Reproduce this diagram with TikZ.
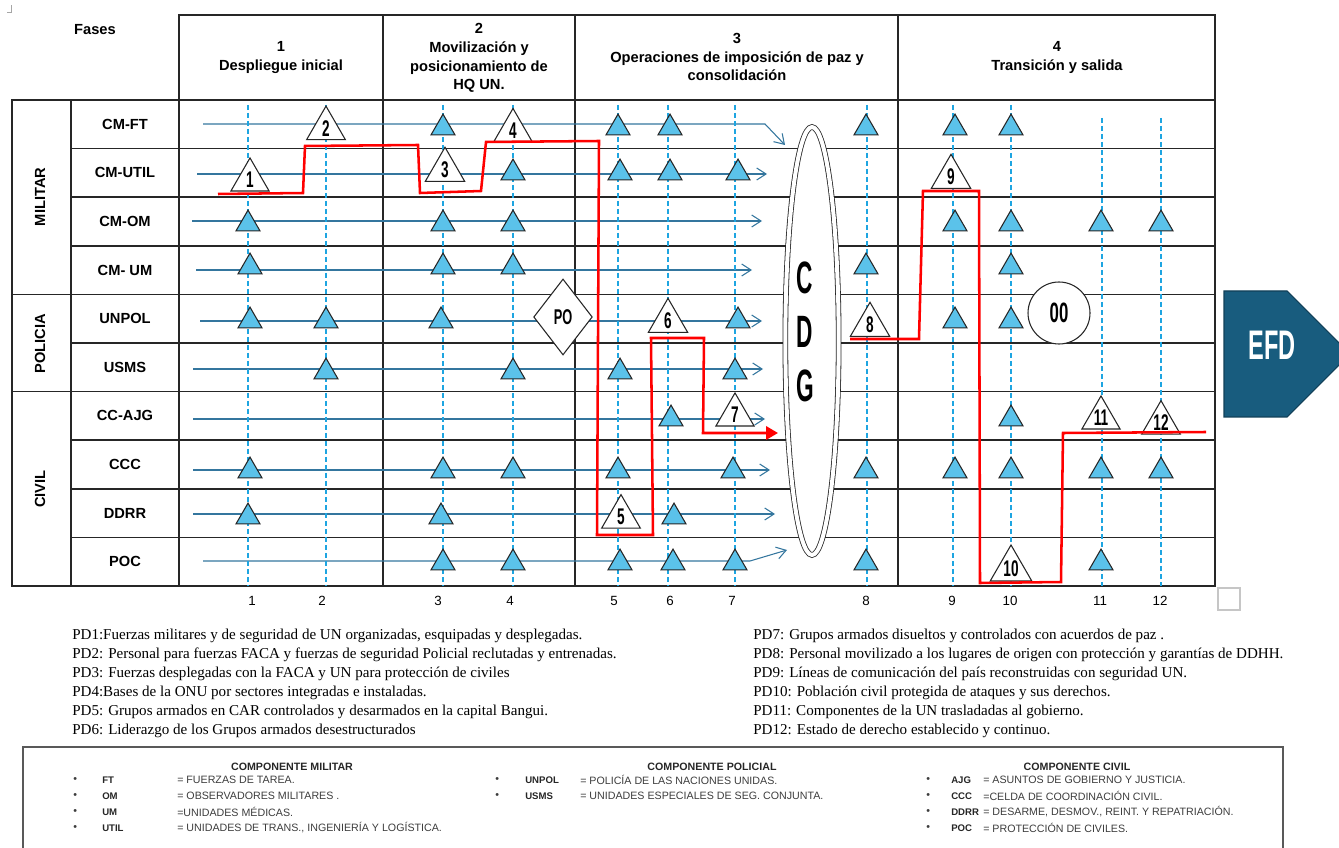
\documentclass[tikz,border=0pt]{standalone}
\usepackage{fontspec}
\setmainfont{Liberation Sans}
\newfontfamily\pdfont{Liberation Serif}
\newfontfamily\legfont{Liberation Sans}
\usetikzlibrary{shapes.geometric,arrows.meta}

\definecolor{azulflujo}{RGB}{52,118,158}
\definecolor{azulhito}{RGB}{30,165,225}
\definecolor{azultri}{RGB}{91,194,234}
\definecolor{azulefd}{RGB}{24,92,126}
\definecolor{grisley}{RGB}{60,60,60}

\newcommand{\angosto}[2][0.6]{\scalebox{#1}[1]{\bfseries #2}}

\tikzset{
  celda/.style={draw=black!85,line width=1.1pt},
  titulo/.style={font=\bfseries\fontsize{11}{14}\selectfont,inner sep=1pt},
  flujo/.style={azulflujo,line width=0.8pt,-{Straight Barb[length=7pt,width=9pt]}},
  hito/.style={azulhito,line width=0.9pt,dash pattern=on 3.5pt off 2.5pt},
  pd/.style={regular polygon,regular polygon sides=3,draw=black!85,fill=azultri,
    line width=0.8pt,minimum size=20.8pt,inner sep=0pt,outer sep=0pt},
  pdnum/.style={regular polygon,regular polygon sides=3,draw=black!85,fill=white,
    line width=0.8pt,minimum size=30pt,inner sep=0pt,font=\fontsize{17}{17}\selectfont},
  ruta/.style={red,line width=1.9pt},
  nota/.style={anchor=west,inner sep=0pt,font=\pdfont\fontsize{11.3}{13}\selectfont},
  ley/.style={anchor=west,inner sep=0pt,text=grisley,font=\legfont\fontsize{8}{9}\selectfont},
  leytit/.style={ley,text=black!85,font=\legfont\bfseries\fontsize{8}{9}\selectfont},
  leyabr/.style={ley,text=black!85,font=\legfont\bfseries\fontsize{7.2}{9}\selectfont},
}

\begin{document}
\begin{tikzpicture}[x=0.75pt,y=-0.75pt]
\clip (0,0) rectangle (1339,848);
\draw[gray!70,line width=0.6pt] (7,12) -- (11,12) -- (11,5);

%% cabecera
\node[titulo] (fases) at (95,30) {Fases};
\draw[celda] (179,15) rectangle (1215,100);
\foreach \x in {383,575,898} \draw[celda] (\x,15) -- (\x,586);
\node[titulo,align=center] (fase1) at (281,57.5) {1\\Despliegue inicial};
\node[titulo,align=center] (fase2) at (479,58) {2\\Movilización y\\posicionamiento de\\HQ UN.};
\node[titulo,align=center] (fase3) at (737,57) {3\\Operaciones de imposición de paz y\\consolidación};
\node[titulo,align=center] (fase4) at (1057,57.5) {4\\Transición y salida};

%% cuerpo de la tabla
\draw[celda] (12,100) rectangle (1215,586);
\draw[celda] (71,100) -- (71,586);
\draw[celda] (179,100) -- (179,586);
\foreach \i in {1,2,3,5,7,8,9} \draw[celda] (71,100+48.6*\i) -- (1215,100+48.6*\i);
\foreach \i in {4,6} \draw[celda] (12,100+48.6*\i) -- (1215,100+48.6*\i);
\foreach \t [count=\i from 0] in {CM-FT,CM-UTIL,CM-OM,CM- UM,UNPOL,USMS,CC-AJG,CCC,DDRR,POC}
  \node[titulo] (fila\i) at (125,124.3+48.6*\i) {\t};
\node[titulo,rotate=90] (militar) at (40,197) {MILITAR};
\node[titulo,rotate=90] (policia) at (40,343.5) {POLICIA};
\node[titulo,rotate=90] (civil) at (40,489) {CIVIL};

%% lineas de esfuerzo
\draw[flujo] (203,124) -- (765,124) -- (785,145);
\foreach \xa/\xb/\y in {197/767/174,192/762/221,196/752/270,200/762/321,193/763/369,193/765/419,193/770/470,193/775/514}
  \draw[flujo] (\xa,\y) -- (\xb,\y);
\draw[flujo] (203,561) -- (750,561) -- (787,550);

%% puntos decisivos (columnas)
\foreach \x in {248,326,443,513,618,668,735,867,953,1011} \draw[hito] (\x,105) -- (\x,586);
\foreach \x in {1102,1161} \draw[hito] (\x,118) -- (\x,586);

%% triangulos azules
\foreach \y/\lista in {128/{443,618,670,866,955,1011},173/{513,620,670,738},
    224/{248,443,513,955,1011,1101,1161},267/{250,443,513,866,1011},
    321/{250,326,441,738,955,1011},372/{326,513,620,735},419/{671,1011},
    471/{250,443,513,618,733,866,955,1011,1101,1161},517/{248,441,674},
    563/{443,513,620,673,735,866,1101}}
  \foreach \x in \lista \node[pd] (t-\x-\y) at (\x,\y) {};

%% triangulos numerados
\node[pdnum] (pd1) at (250,180) {\angosto{1}};
\node[pdnum] (pd2) at (326,128.5) {\angosto{2}};
\node[pdnum] (pd3) at (445,170) {\angosto{3}};
\node[pdnum] (pd4) at (513,130.5) {\angosto{4}};
\node[pdnum] (pd5) at (621,517) {\angosto{5}};
\node[pdnum] (pd6) at (668,321) {\angosto{6}};
\node[pdnum] (pd7) at (735,415) {\angosto{7}};
\node[pdnum] (pd8) at (870,325) {\angosto{8}};
\node[pdnum] (pd9) at (951,177) {\angosto{9}};
\node[pdnum,minimum size=36pt] (pd10) at (1011,569) {\angosto{10}};
\node[pdnum] (pd11) at (1101,418) {\angosto{11}};
\node[pdnum] (pd12) at (1161,423) {\angosto{12}};

\node[diamond,draw=black!85,fill=white,line width=0.8pt,minimum width=44pt,minimum height=57pt,
  inner sep=0pt,font=\fontsize{16}{16}\selectfont] (po) at (563,317) {\angosto{PO}};
\node[circle,draw=black!85,fill=white,line width=0.8pt,minimum size=46.5pt,inner sep=0pt,
  font=\fontsize{21}{21}\selectfont] (oo) at (1059,313) {\angosto{00}};

%% CDG
\node[ellipse,draw=black!85,double,double distance=3pt,line width=0.6pt,fill=white,
  minimum width=40pt,minimum height=321pt,inner sep=0pt] (cdg) at (812,341) {};
\node[font=\fontsize{34}{34}\selectfont] (cdgC) at (805,278) {\angosto[0.5]{C}};
\node[font=\fontsize{34}{34}\selectfont] (cdgD) at (805,332) {\angosto[0.5]{D}};
\node[font=\fontsize{34}{34}\selectfont] (cdgG) at (805,386) {\angosto[0.5]{G}};

%% ruta critica
\draw[ruta,-{Triangle[length=9pt,width=10pt]}] (218,194) -- (303,193) -- (305,146) -- (418,145) -- (420,193)
  -- (481,191) -- (486,142) -- (599,141) -- (597,535) -- (653,535) -- (651,338) -- (704,338)
  -- (703,433) -- (778,433);
\draw[ruta] (850,339) -- (919,339) -- (923,191) -- (979,191) -- (980,583) -- (1061,582)
  -- (1063,433) -- (1206,432);

%% estado final deseado
\filldraw[fill=azulefd,draw=azulefd!70!black,line width=0.8pt] (1224,291) -- (1287,291) -- (1350,354)
  -- (1287,417) -- (1224,417) -- cycle;
\node[text=white,font=\fontsize{31}{31}\selectfont] (efd) at (1272,345) {\angosto[0.57]{EFD}};

%% numeros de PD
\foreach \x/\n in {252/1,322/2,438/3,510/4,614/5,670/6,732/7,866/8,952/9,1010/10,1100/11,1160/12}
  \node[font=\fontsize{10}{12}\selectfont] (num\n) at (\x,601) {\n};
\draw[gray!45,line width=1.2pt] (1218,588) rectangle (1240,610);

%% notas
\node[nota] (nota1) at (72,636) {PD1:Fuerzas militares y de seguridad de UN organizadas, esquipadas y desplegadas.};
\node[nota] (nota2) at (72,655) {PD2: Personal para fuerzas FACA y fuerzas de seguridad Policial reclutadas y entrenadas.};
\node[nota] (nota3) at (72,674) {PD3: Fuerzas desplegadas con la FACA y UN para protección de civiles};
\node[nota] (nota4) at (72,693) {PD4:Bases de la ONU por sectores integradas e instaladas.};
\node[nota] (nota5) at (72,712) {PD5: Grupos armados en CAR controlados y desarmados en la capital Bangui.};
\node[nota] (nota6) at (72,731) {PD6: Liderazgo de los Grupos armados desestructurados};
\node[nota] (nota7) at (753,636) {PD7: Grupos armados disueltos y controlados con acuerdos de paz .};
\node[nota] (nota8) at (753,655) {PD8: Personal movilizado a los lugares de origen con protección y garantías de DDHH.};
\node[nota] (nota9) at (753,674) {PD9: Líneas de comunicación del país reconstruidas con seguridad UN.};
\node[nota] (nota10) at (753,693) {PD10: Población civil protegida de ataques y sus derechos.};
\node[nota] (nota11) at (753,712) {PD11: Componentes de la UN trasladadas al gobierno.};
\node[nota] (nota12) at (753,731) {PD12: Estado de derecho establecido y continuo.};

%% leyenda
\draw[draw=black!65,line width=1.2pt] (23,747) rectangle (1283,880);
\node[leytit,anchor=center] (lmil) at (292,767) {COMPONENTE MILITAR};
\foreach \a/\d [count=\i from 0] in {FT/= FUERZAS DE TAREA.,OM/= OBSERVADORES MILITARES .,UM/=UNIDADES MÉDICAS.,UTIL/= UNIDADES DE TRANS.{,} INGENIERÍA Y LOGÍSTICA.}{
  \node[ley] (bm\i) at (73,780+16*\i) {\textbullet};
  \node[leyabr] (am\i) at (102,780+16*\i) {\a};
  \node[ley] (dm\i) at (177,780+16*\i) {\d};
}
\node[leytit,anchor=center] (lpol) at (712,767) {COMPONENTE POLICIAL};
\foreach \a/\d [count=\i from 0] in {UNPOL/= POLICÍA DE LAS NACIONES UNIDAS.,USMS/= UNIDADES ESPECIALES DE SEG. CONJUNTA.}{
  \node[ley] (bp\i) at (495,780+16*\i) {\textbullet};
  \node[leyabr] (ap\i) at (525,780+16*\i) {\a};
  \node[ley] (dp\i) at (580,780+16*\i) {\d};
}
\node[leytit,anchor=center] (lciv) at (1077,767) {COMPONENTE CIVIL};
\foreach \a/\d [count=\i from 0] in {AJG/= ASUNTOS DE GOBIERNO Y JUSTICIA.,CCC/=CELDA DE COORDINACIÓN CIVIL.,DDRR/= DESARME{,} DESMOV.{,} REINT. Y REPATRIACIÓN.,POC/= PROTECCIÓN DE CIVILES.}{
  \node[ley] (bc\i) at (926,780+16*\i) {\textbullet};
  \node[leyabr] (ac\i) at (951,780+16*\i) {\a};
  \node[ley] (dc\i) at (983,780+16*\i) {\d};
}
\end{tikzpicture}
\end{document}
